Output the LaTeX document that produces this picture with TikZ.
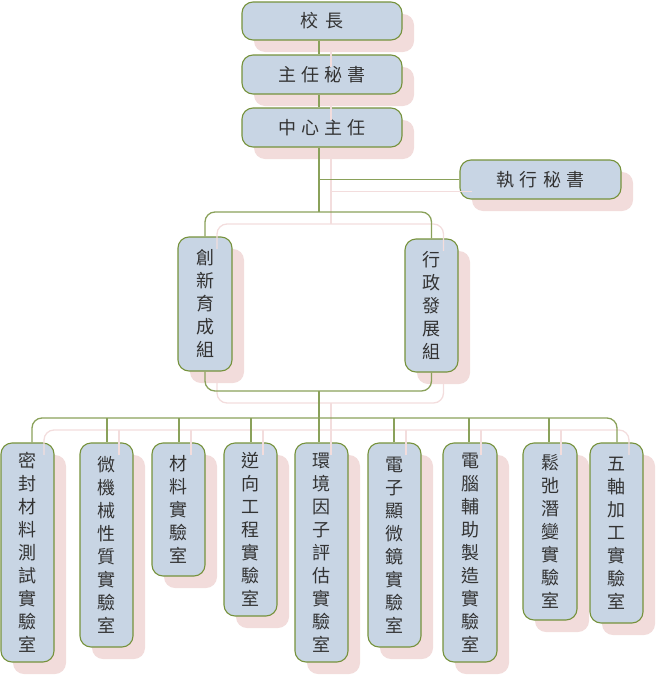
\documentclass[tikz,border=0pt]{standalone}
\usepackage{fontspec}
\newfontfamily\cjk{Noto Sans CJK TC}
\definecolor{boxfill}{HTML}{C8D5E4}
\definecolor{boxline}{HTML}{76923C}
\definecolor{wire}{HTML}{8AA15A}
\definecolor{shade}{HTML}{F2DCDB}
\definecolor{shadeline}{HTML}{F3DDDD}
\definecolor{txt}{HTML}{333333}
\tikzset{
  orgbox/.style={draw=boxline, fill=boxfill, line width=1.1pt, rounded corners=11pt,
    inner sep=0pt, align=center, text=txt, font=\cjk\fontsize{18pt}{23pt}\selectfont},
  shadowbox/.style={fill=shade, rounded corners=11pt, inner sep=0pt},
  wirestyle/.style={draw=wire, line width=1.3pt, rounded corners=10pt},
  shadewire/.style={draw=shadeline, line width=1.3pt, rounded corners=10pt},
}
\newcommand\gp{\hspace{5.3pt}}
\newcommand\ob[6]{%
  \node[shadowbox, minimum width=#4pt, minimum height=#5pt] (s#1) at (#2+12,#3+12) {};
  \node[orgbox, minimum width=#4pt, minimum height=#5pt] (#1) at (#2,#3) {#6};
}
\newcommand\wiring[3]{%
  \coordinate (#1tr) at (319+#2, 0);
  \coordinate (#1up) at (0, 212+#2);
  \coordinate (#1lo) at (0, 391+#2);
  \coordinate (#1d1) at (32+#2, 418+#2);
  \coordinate (#1d2) at (107+#2, 418+#2);
  \coordinate (#1d3) at (179+#2, 418+#2);
  \coordinate (#1d4) at (251+#2, 418+#2);
  \coordinate (#1d6) at (394+#2, 418+#2);
  \coordinate (#1d7) at (469+#2, 418+#2);
  \coordinate (#1d8) at (549+#2, 418+#2);
  \coordinate (#1d9) at (617+#2, 418+#2);
  \draw[#3] (#1head.south -| #1tr) -- (#1sec.north -| #1tr);
  \draw[#3] (#1sec.south -| #1tr) -- (#1dir.north -| #1tr);
  \draw[#3] (#1dir.south -| #1tr) -- (#1tr |- #1up);
  \draw[#3] (#1tr |- #1exec.west) -- (#1exec.west);
  \draw[#3] (#1inc.north) -- (#1inc.north |- #1up) -- (#1adm.north |- #1up) -- (#1adm.north);
  \draw[#3] (#1inc.south) -- (#1inc.south |- #1lo) -- (#1adm.south |- #1lo) -- (#1adm.south);
  \draw[#3] (#1tr |- #1lo) -- (#1b5.north -| #1tr);
  \draw[#3] (#1b1.north -| #1d1) -- (#1d1) -- (#1d9) -- (#1b9.north -| #1d9);
  \foreach \k in {2,3,4,6,7,8} { \draw[#3] (#1d\k) -- (#1b\k.north -| #1d\k); }
}
\begin{document}
\begin{tikzpicture}[x=1pt,y=-1pt]
\useasboundingbox (0,0) rectangle (656,675);
\ob{head}{322}{21}{160}{38}{校\hspace{8pt}長}
\ob{sec}{322}{74.5}{160}{39}{主\gp 任\gp 秘\gp 書}
\ob{dir}{322}{127.5}{160}{39}{中\gp 心\gp 主\gp 任}
\ob{exec}{540.5}{179.5}{161}{39}{執\gp 行\gp 秘\gp 書}
\ob{inc}{205}{304}{54}{134}{創\\新\\育\\成\\組}
\ob{adm}{431.5}{305.5}{53}{133}{行\\政\\發\\展\\組}
\ob{b1}{27.5}{552.5}{53}{219}{密\\封\\材\\料\\測\\試\\實\\驗\\室}
\ob{b2}{106.5}{545}{53}{204}{微\\機\\械\\性\\質\\實\\驗\\室}
\ob{b3}{178.5}{509.5}{53}{133}{材\\料\\實\\驗\\室}
\ob{b4}{250.5}{529.5}{53}{173}{逆\\向\\工\\程\\實\\驗\\室}
\ob{b5}{321.5}{552.5}{53}{219}{環\\境\\因\\子\\評\\估\\實\\驗\\室}
\ob{b6}{394.5}{545}{53}{204}{電\\子\\顯\\微\\鏡\\實\\驗\\室}
\ob{b7}{470}{552.5}{54}{219}{電\\腦\\輔\\助\\製\\造\\實\\驗\\室}
\ob{b8}{550}{531.5}{54}{177}{鬆\\弛\\潛\\變\\實\\驗\\室}
\ob{b9}{616.5}{533}{53}{180}{五\\軸\\加\\工\\實\\驗\\室}
\wiring{s}{12}{shadewire}
\wiring{}{0}{wirestyle}
\end{tikzpicture}
\end{document}
